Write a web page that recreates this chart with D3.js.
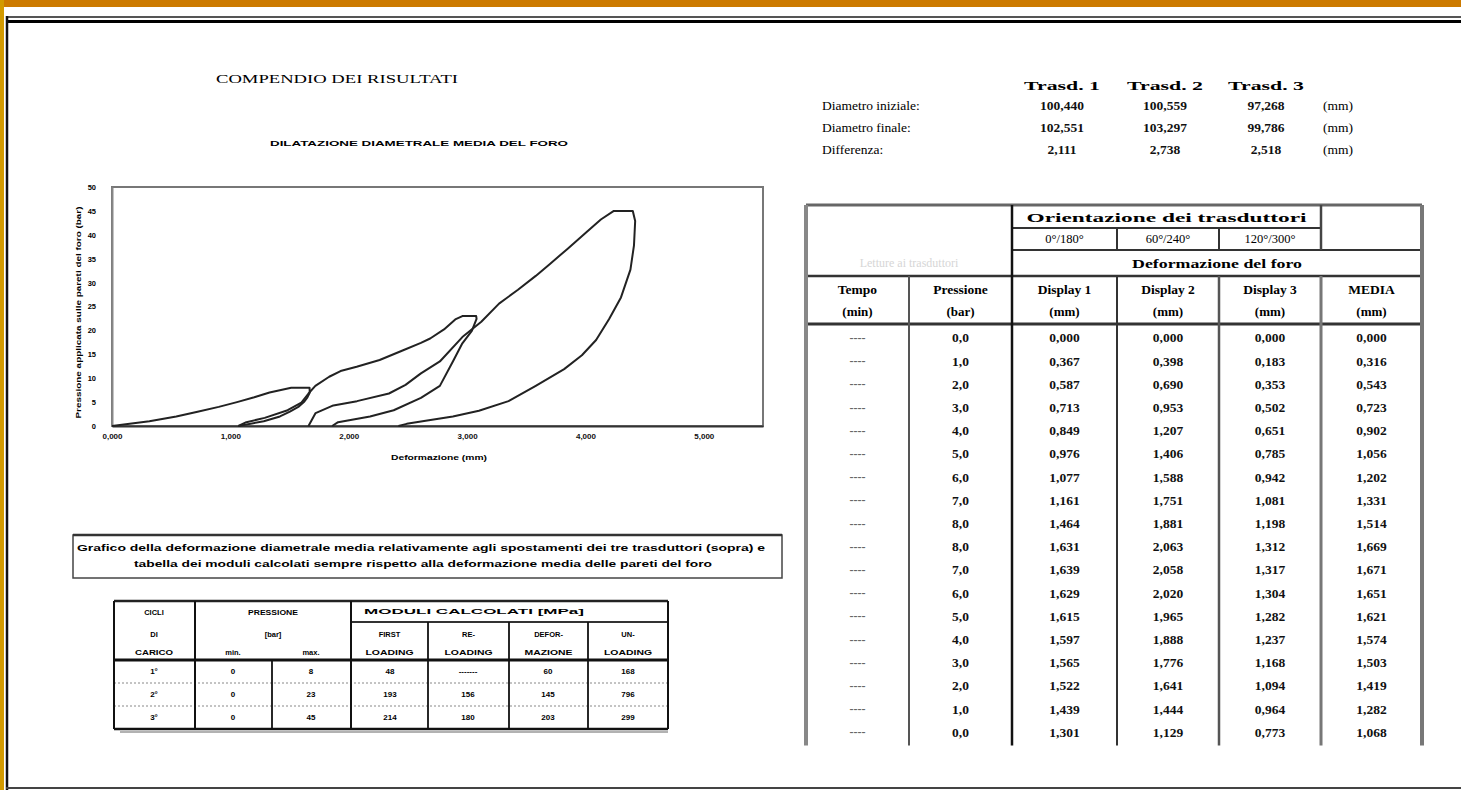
<!DOCTYPE html>
<html><head><meta charset="utf-8">
<script src="https://cdn.jsdelivr.net/npm/d3@7"></script>
<style>html,body{margin:0;padding:0;background:#fff;}svg{display:block;}</style>
</head><body>
<script>
// ---------------- DATA ----------------
const pressione = [0,1,2,3,4,5,6,7,8,8,7,6,5,4,3,2,1,0];
const display1 = [0.000,0.367,0.587,0.713,0.849,0.976,1.077,1.161,1.464,1.631,1.639,1.629,1.615,1.597,1.565,1.522,1.439,1.301];
const display2 = [0.000,0.398,0.690,0.953,1.207,1.406,1.588,1.751,1.881,2.063,2.058,2.020,1.965,1.888,1.776,1.641,1.444,1.129];
const display3 = [0.000,0.183,0.353,0.502,0.651,0.785,0.942,1.081,1.198,1.312,1.317,1.304,1.282,1.237,1.168,1.094,0.964,0.773];
const media    = [0.000,0.316,0.543,0.723,0.902,1.056,1.202,1.331,1.514,1.669,1.671,1.651,1.621,1.574,1.503,1.419,1.282,1.068];

// cycle 2 and 3 (deformation mm, pressure bar)
const cycle2X = [1.068,1.135,1.29,1.484,1.60,1.66,1.718,1.835,1.931,2.067,2.261,2.455,2.61,2.688,2.805,2.90,2.96,3.077,3.08,3.04,2.96,2.88,2.77,2.61,2.38,2.18,1.91,1.86];
const cycle2P = [0,0.8,1.7,3.3,4.9,6.8,8.4,10.3,11.5,12.4,13.8,15.8,17.4,18.3,20.2,22.3,23.0,23.0,22.4,19.9,17.3,13.5,8.4,5.9,3.3,2.0,0.8,0];
const cycle3X = [1.66,1.72,1.87,2.07,2.34,2.48,2.61,2.77,2.96,3.12,3.27,3.43,3.58,3.70,3.85,4.01,4.13,4.24,4.40,4.42,4.41,4.38,4.30,4.20,4.09,3.97,3.82,3.58,3.35,3.10,2.88,2.65,2.49,2.42];
const cycle3P = [0,2.7,4.3,5.2,6.8,8.6,11.0,13.5,18.6,21.8,25.6,28.5,31.4,33.9,37.1,40.6,43.2,45,45,42.9,37.8,32.7,26.9,22.4,18.0,14.8,11.9,8.4,5.2,3.2,2.0,1.1,0.45,0];

const xTicks = [0,1,2,3,4,5];
const yTicks = [0,5,10,15,20,25,30,35,40,45,50];

const trasd = ["Trasd. 1","Trasd. 2","Trasd. 3"];
const statLabels = ["Diametro iniziale:","Diametro finale:","Differenza:"];
const diamIniziale = [100.440,100.559,97.268];
const diamFinale = [102.551,103.297,99.786];
const differenza = [2.111,2.738,2.518];

const cicli = ["1°","2°","3°"];
const pMin = [0,0,0];
const pMax = [8,23,45];
const firstLoading = ["48","193","214"];
const reLoading = ["-------","156","180"];
const deformazioneMod = ["60","145","203"];
const unloading = ["168","796","299"];

// ---------------- SETUP ----------------
const W = 1461, H = 790;
const svg = d3.select("body").append("svg").attr("width", W).attr("height", H);
const loc = d3.formatLocale({decimal: ",", thousands: ".", grouping: [3], currency: ["", ""]});
const f3 = loc.format(".3f"), f1 = loc.format(".1f");
const SERIF = "'Liberation Serif','Times New Roman',serif";
const SANS = "'Liberation Sans',Arial,sans-serif";

function txt(x, y, s, o = {}) {
  const t = svg.append("text").attr("x", x).attr("y", y).text(s)
    .attr("font-family", o.ff || SANS).attr("font-size", o.fs || 8)
    .attr("font-weight", o.fw || "normal").attr("fill", o.fill || "#111")
    .attr("text-anchor", o.anchor || "middle").attr("dominant-baseline", "central");
  if (o.len) t.attr("textLength", o.len).attr("lengthAdjust", "spacingAndGlyphs");
  if (o.rot) t.attr("transform", `rotate(${o.rot},${x},${y})`);
  return t;
}
function line(x1, y1, x2, y2, c = "#222", w = 1.5, dash) {
  const l = svg.append("line").attr("x1", x1).attr("y1", y1).attr("x2", x2).attr("y2", y2)
    .attr("stroke", c).attr("stroke-width", w);
  if (dash) l.attr("stroke-dasharray", dash);
  return l;
}

// ---------------- FRAME ----------------
svg.append("rect").attr("x", 0).attr("y", 0).attr("width", W).attr("height", 7).attr("fill", "#CC7A00");
svg.append("rect").attr("x", 0).attr("y", 0).attr("width", 4).attr("height", H).attr("fill", "#D29A00");
line(6, 17, W, 17, "#555", 2);
line(6, 21.5, W, 21.5, "#000", 3);
line(7, 16, 7, H, "#111", 2.5);
line(6, 788, W, 788, "#444", 2);

// ---------------- TITLES ----------------
txt(337, 79, "COMPENDIO DEI RISULTATI", {ff: SERIF, fs: 11.5, len: 242, fill: "#000"});
txt(419, 143, "DILATAZIONE DIAMETRALE MEDIA DEL FORO", {fs: 7.5, fw: "bold", len: 298, fill: "#000"});

// ---------------- CHART ----------------
const PL = 112, PR = 763, PT = 187, PB = 426;
const x = d3.scaleLinear().domain([0, 5.5]).range([PL, PR]);
const y = d3.scaleLinear().domain([0, 50]).range([PB, PT]);

svg.append("rect").attr("x", PL).attr("y", PT).attr("width", PR - PL).attr("height", PB - PT)
  .attr("fill", "none").attr("stroke", "#777").attr("stroke-width", 2);

const gx = svg.append("g").attr("transform", `translate(0,${PB})`)
  .call(d3.axisBottom(x).tickValues(xTicks).tickFormat(f3).tickSize(0).tickPadding(7));
gx.select(".domain").attr("stroke", "#333").attr("stroke-width", 2.2);
gx.selectAll("text").attr("font-family", SANS).attr("font-size", 8).attr("font-weight", "bold").attr("fill", "#111");

const gy = svg.append("g").attr("transform", `translate(${PL},0)`)
  .call(d3.axisLeft(y).tickValues(yTicks).tickFormat(d3.format("d")).tickSize(0).tickPadding(16));
gy.select(".domain").attr("stroke", "#888").attr("stroke-width", 2);
gy.selectAll("text").attr("font-family", SANS).attr("font-size", 7.5).attr("font-weight", "bold").attr("fill", "#000");

txt(439, 457, "Deformazione (mm)", {fs: 7, fw: "bold", len: 96, fill: "#000"});
txt(78, (PT + PB) / 2 + 6, "Pressione applicata sulle pareti del foro (bar)", {fs: 7, fw: "bold", len: 212, rot: -90, fill: "#000"});

const lineGen = d3.line().x(d => x(d[0])).y(d => y(d[1])).curve(d3.curveLinear);
const cycles = [
  d3.zip(media, pressione),
  d3.zip(cycle2X, cycle2P),
  d3.zip(cycle3X, cycle3P)
];
svg.append("g").selectAll("path").data(cycles).join("path")
  .attr("d", lineGen).attr("fill", "none").attr("stroke", "#222").attr("stroke-width", 2)
  .attr("stroke-linejoin", "round");

// ---------------- CAPTION BOX ----------------
svg.append("rect").attr("x", 73).attr("y", 535).attr("width", 709).attr("height", 43)
  .attr("fill", "none").attr("stroke", "#444").attr("stroke-width", 1.5);
line(73, 535, 782, 535, "#333", 2.5);
txt(421, 548, "Grafico della deformazione diametrale media relativamente agli spostamenti dei tre trasduttori (sopra) e", {fs: 8.5, fw: "bold", len: 688, fill: "#000"});
txt(423, 564, "tabella dei moduli calcolati sempre rispetto alla deformazione media delle pareti del foro", {fs: 8.5, fw: "bold", len: 578, fill: "#000"});

// ---------------- SMALL TABLE ----------------
const sc = [114, 195, 351, 428, 509, 588, 668];
const sTop = 601, sMod = 622, sHead = 660, sBot = 729;
const sRowH = (sBot - sHead) / 3;
line(sc[0], sTop, sc[6], sTop, "#222", 2.5);
line(sc[0], sHead, sc[6], sHead, "#111", 3);
line(sc[2], sMod, sc[6], sMod, "#333", 2);
line(sc[0], sBot, sc[6], sBot, "#111", 2.5);
line(sc[0] + 6, sBot + 3, sc[6], sBot + 3, "#999", 1.5);
for (let i = 1; i < 3; i++) line(sc[0], sHead + i * sRowH, sc[6], sHead + i * sRowH, "#888", 1, "2,2");
[0, 1, 2, 6].forEach(i => line(sc[i], sTop, sc[i], sBot, "#111", 2));
[3, 4, 5].forEach(i => line(sc[i], sMod, sc[i], sBot, "#111", 1.8));
line(272, sHead, 272, sBot, "#111", 1.8);
const hf = {fs: 7.5, fw: "bold", fill: "#000"};
txt(154, 612, "CICLI", hf); txt(154, 634, "DI", hf); txt(154, 652, "CARICO", {fs: 7, fw: "bold", len: 38, fill: "#000"});
txt(273, 612, "PRESSIONE", {fs: 7.5, fw: "bold", len: 50, fill: "#000"}); txt(273, 634, "[bar]", hf);
txt(233, 652, "min.", hf); txt(311, 652, "max.", hf);
txt(364, 611, "MODULI CALCOLATI [MPa]", {fs: 8, fw: "bold", anchor: "start", len: 220, fill: "#000"});
const subA = ["FIRST", "RE-", "DEFOR-", "UN-"], subB = ["LOADING", "LOADING", "MAZIONE", "LOADING"];
subA.forEach((s, i) => txt((sc[i + 2] + sc[i + 3]) / 2, 634, s, hf));
subB.forEach((s, i) => txt((sc[i + 2] + sc[i + 3]) / 2, 652, s, {fs: 7, fw: "bold", len: 48, fill: "#000"}));
cicli.forEach((c, r) => {
  const cy = sHead + (r + 0.5) * sRowH;
  const vals = [c, pMin[r], pMax[r], firstLoading[r], reLoading[r], deformazioneMod[r], unloading[r]];
  const cx = [154, 233, 311, 390, 468, 548, 628];
  vals.forEach((v, i) => txt(cx[i], cy, v, {fs: 8, fw: "bold", fill: "#000"}));
});

// ---------------- STATS ----------------
const tCx = [1062, 1165, 1266];
trasd.forEach((t, i) => txt(tCx[i], 85, t, {ff: SERIF, fs: 13, fw: "bold", len: 76, fill: "#000"}));
[diamIniziale, diamFinale, differenza].forEach((arr, r) => {
  const cy = 105 + r * 22;
  txt(822, cy, statLabels[r], {ff: SERIF, fs: 13.5, anchor: "start", fill: "#000"});
  arr.forEach((v, i) => txt(tCx[i], cy, f3(v), {ff: SERIF, fs: 13.5, fw: "bold", fill: "#111"}));
  txt(1323, cy, "(mm)", {ff: SERIF, fs: 13.5, anchor: "start", fill: "#000"});
});

// ---------------- MAIN TABLE ----------------
const tc = [806, 909, 1012, 1117, 1219, 1321, 1422];
const tTop = 205, tA = 228, tB = 250, tC = 276, tH = 324, rowH = 23.2;
const tEnd = tH + pressione.length * rowH + 4;
line(tc[0], tTop, tc[6], tTop, "#666", 3);
line(tc[2], tA, tc[5], tA, "#333", 2);
line(tc[2], tB, tc[6], tB, "#333", 2);
line(tc[0], tC, tc[6], tC, "#333", 2.5);
line(tc[0], tH, tc[6], tH, "#333", 3);
line(tc[0], tTop, tc[0], tEnd, "#888", 4);
line(tc[6], tTop, tc[6], tEnd, "#777", 4);
line(tc[2], tTop, tc[2], tEnd, "#111", 2.5);
line(tc[5], tTop, tc[5], tB, "#444", 2.5);
line(tc[5], tC, tc[5], tEnd, "#777", 3);
line(tc[3], tA, tc[3], tB, "#333", 2);
line(tc[4], tA, tc[4], tB, "#333", 2);
line(tc[1], tC, tc[1], tEnd, "#555", 2);
line(tc[3], tC, tc[3], tEnd, "#333", 2);
line(tc[4], tC, tc[4], tEnd, "#555", 2.5);

txt((tc[2] + tc[5]) / 2, 217, "Orientazione dei trasduttori", {ff: SERIF, fs: 13, fw: "bold", len: 280, fill: "#000"});
["0°/180°", "60°/240°", "120°/300°"].forEach((s, i) => txt((tc[i + 2] + tc[i + 3]) / 2, 239, s, {ff: SERIF, fs: 12.5, fill: "#000"}));
txt((tc[2] + tc[6]) / 2, 263, "Deformazione del foro", {ff: SERIF, fs: 13, fw: "bold", len: 170, fill: "#000"});
txt((tc[0] + tc[2]) / 2, 263, "Letture ai trasduttori", {ff: SERIF, fs: 12, fill: "#d6d6d6"});
const head1 = ["Tempo", "Pressione", "Display 1", "Display 2", "Display 3", "MEDIA"];
const head2 = ["(min)", "(bar)", "(mm)", "(mm)", "(mm)", "(mm)"];
head1.forEach((s, i) => txt((tc[i] + tc[i + 1]) / 2, 289, s, {ff: SERIF, fs: 13.5, fw: "bold", fill: "#000"}));
head2.forEach((s, i) => txt((tc[i] + tc[i + 1]) / 2, 311, s, {ff: SERIF, fs: 13, fw: "bold", fill: "#000"}));

const cols = [pressione.map(f1), display1.map(f3), display2.map(f3), display3.map(f3), media.map(f3)];
pressione.forEach((p, r) => {
  const cy = tH + (r + 0.6) * rowH;
  txt((tc[0] + tc[1]) / 2, cy, "----", {ff: SERIF, fs: 12, fw: "bold", fill: "#666"});
  cols.forEach((c, i) => txt((tc[i + 1] + tc[i + 2]) / 2, cy, c[r], {ff: SERIF, fs: 13.5, fw: "bold", fill: "#111"}));
});
</script>
</body></html>
